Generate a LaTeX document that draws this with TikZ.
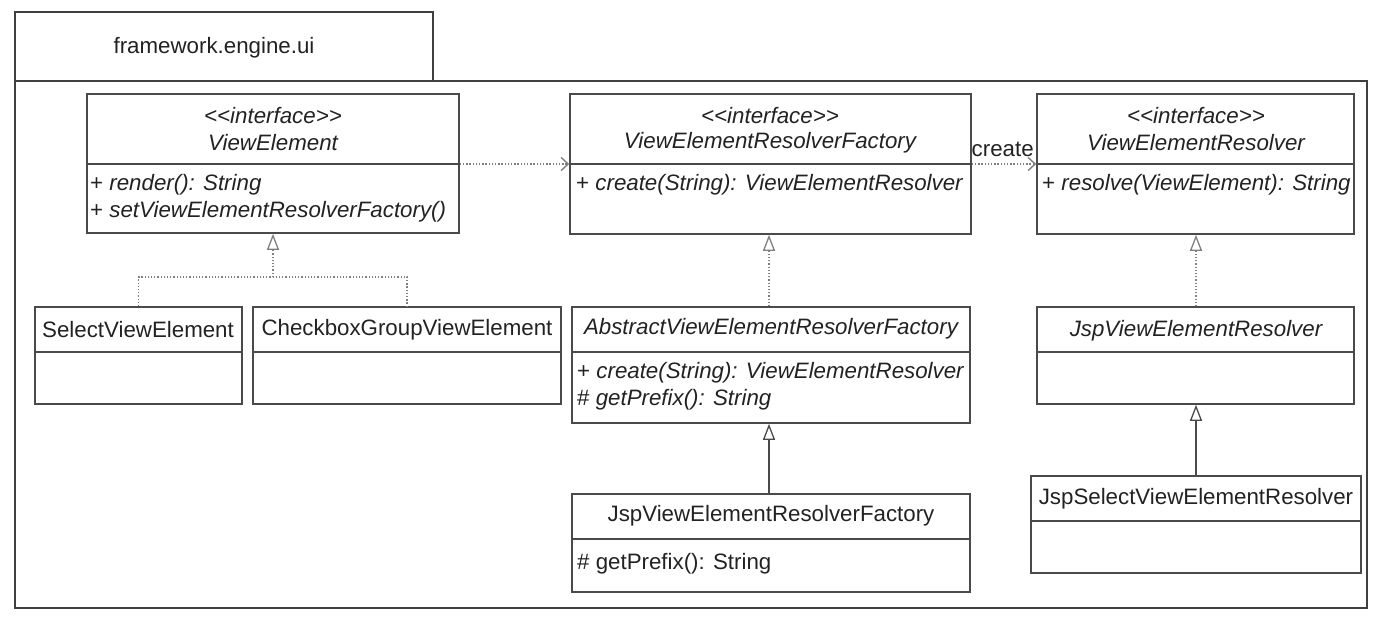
\documentclass[tikz,border=0pt]{standalone}
\usepackage{fontspec}
\setmainfont{Liberation Sans}
\usetikzlibrary{arrows.meta}
\definecolor{ln}{HTML}{4A4A4A}
\definecolor{tx}{HTML}{222222}
\newcommand{\umlbox}[6]{%
  \node[box, minimum width={(#4)-(#2)}, minimum height={(#5)-(#3)}] (#1) at ({((#2)+(#4))/2},{((#3)+(#5))/2}) {};
  \draw[boxline] (#1.west |- 0,#6) -- (#1.east |- 0,#6);}
\begin{document}
\begin{tikzpicture}[x=1pt,y=-1pt,
  every node/.style={text=tx, font=\fontsize{22.3}{26}\selectfont},
  box/.style={draw=ln, line width=1.6pt, inner sep=0pt, fill=none},
  boxline/.style={draw=ln, line width=1.6pt},
  frame/.style={draw=ln!85!black, line width=2.4pt},
  lbl/.style={inner sep=0pt, anchor=center},
  mth/.style={inner sep=0pt, anchor=west},
  dep/.style={draw=ln!70, line width=1.3pt, dash pattern=on 1.3pt off 1.9pt},
  realize/.style={draw=ln!70, line width=1.3pt, dash pattern=on 1.3pt off 1.9pt},
  inherit/.style={draw=ln, line width=1.5pt},
  tri/.style={-{Triangle[open, length=16pt, width=12pt, line width=1.3pt]}},
  barb/.style={-{Straight Barb[length=7pt, width=13pt, line width=1.4pt]}},
  ]
\useasboundingbox (0,0) rectangle (1379,618);
% package frame
\draw[frame] (15,12) rectangle (433,81);
\draw[frame] (15,81) rectangle (1367,608);
\node[lbl] (pkg) at (214,48) {framework.engine.ui};

% boxes
\umlbox{ve}{87}{94}{459}{233}{164}
\umlbox{verf}{570}{94}{971}{234}{164}
\umlbox{ver}{1037}{94}{1354}{234}{164}
\umlbox{sve}{35}{307}{242}{404}{352}
\umlbox{cgve}{253}{307}{561}{404}{352}
\umlbox{averf}{572}{307}{970}{423}{352}
\umlbox{jverf}{572}{494}{970}{592}{539}
\umlbox{jver}{1037}{307}{1354}{404}{352}
\umlbox{jsver}{1031}{476}{1361}{573}{521}

% texts
\node[lbl] (veS) at (273,116) {\itshape <{}<interface>{}>};
\node[lbl] (veN) at (273,143) {\itshape ViewElement};
\node[mth] (veM1) at (90,185) {+ \itshape render(): String};
\node[mth] (veM2) at (90,212) {+ \itshape setViewElementResolverFactory()};

\node[lbl] (verfS) at (770,116) {\itshape <{}<interface>{}>};
\node[lbl] (verfN) at (770,143) {\itshape ViewElementResolverFactory};
\node[mth] (verfM) at (576,185) {+ \itshape create(String): ViewElementResolver};

\node[lbl] (verS) at (1196,116) {\itshape <{}<interface>{}>};
\node[lbl] (verN) at (1196,143) {\itshape ViewElementResolver};
\node[mth] (verM) at (1042,185) {+ \itshape resolve(ViewElement): String};

\node[lbl] (sveN) at (138,330) {SelectViewElement};
\node[lbl] (cgveN) at (407,330) {CheckboxGroupViewElement};

\node[lbl] (averfN) at (771,329) {\itshape AbstractViewElementResolverFactory};
\node[mth] (averfM1) at (577,373) {+ \itshape create(String): ViewElementResolver};
\node[mth] (averfM2) at (577,400) {\# \itshape getPrefix(): String};

\node[lbl] (jverfN) at (771,516) {JspViewElementResolverFactory};
\node[mth] (jverfM) at (577,564) {\# getPrefix(): String};

\node[lbl] (jverN) at (1196,331) {\itshape JspViewElementResolver};
\node[lbl] (jsverN) at (1196,499) {JspSelectViewElementResolver};

% connectors
\coordinate (vejoin) at (273,277);
\coordinate (svej) at (sve.north |- vejoin);
\coordinate (cgvej) at (407,277);
\draw[realize] (sve.north) -- (svej) -- (cgvej) -- (cgvej |- cgve.north);
\draw[realize, tri] (vejoin) -- (ve.south);

\draw[dep, barb] (ve.east |- 0,164) -- (verf.west |- 0,164);
\draw[dep, barb] (verf.east |- 0,164) -- node[lbl, above=7pt, pos=0.48] (create) {create} (ver.west |- 0,164);

\draw[realize, tri] (averf.north -| 769,0) -- (verf.south -| 769,0);
\draw[inherit, tri] (jverf.north -| 769,0) -- (averf.south -| 769,0);
\draw[realize, tri] (jver.north -| 1196,0) -- (ver.south -| 1196,0);
\draw[inherit, tri] (jsver.north -| 1196,0) -- (jver.south -| 1196,0);
\end{tikzpicture}
\end{document}
